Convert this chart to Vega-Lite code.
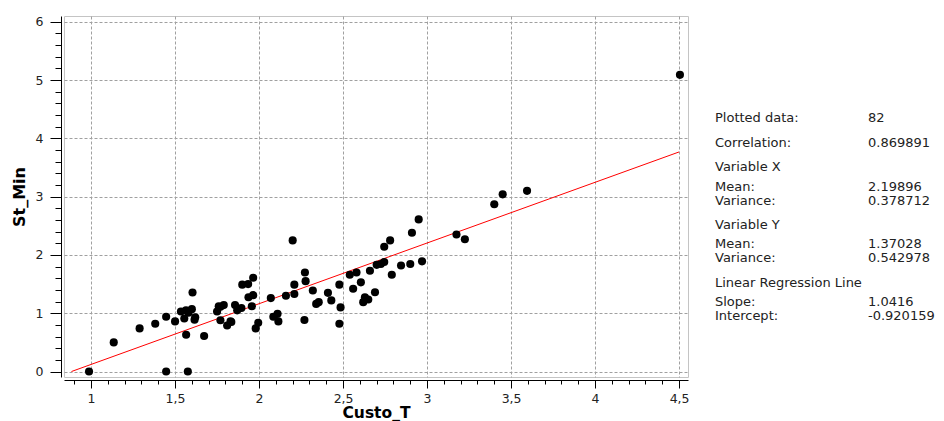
{
  "$schema": "https://vega.github.io/schema/vega-lite/v6.json",
  "background": "white",
  "padding": {"left": 10, "top": 15, "right": 0, "bottom": 0},
  "config": {"font": "DejaVu Sans", "view": {"stroke": null}},
  "spacing": 25,
  "datasets": {
    "points": [
      {"x": 0.988, "y": 0}, {"x": 1.135, "y": 0.5}, {"x": 1.289, "y": 0.74}, {"x": 1.382, "y": 0.82},
      {"x": 1.447, "y": 0.94}, {"x": 1.447, "y": 0}, {"x": 1.5, "y": 0.86}, {"x": 1.535, "y": 1.03},
      {"x": 1.555, "y": 0.91}, {"x": 1.565, "y": 1.05}, {"x": 1.566, "y": 0.63}, {"x": 1.576, "y": 0},
      {"x": 1.6, "y": 1.07}, {"x": 1.604, "y": 1.355}, {"x": 1.616, "y": 0.89}, {"x": 1.673, "y": 0.61},
      {"x": 1.58, "y": 1.01}, {"x": 1.62, "y": 0.93},
      {"x": 1.75, "y": 1.03}, {"x": 1.77, "y": 1.11}, {"x": 1.79, "y": 1.14}, {"x": 1.77, "y": 0.88},
      {"x": 1.76, "y": 1.12}, {"x": 1.83, "y": 0.86},
      {"x": 1.81, "y": 0.79}, {"x": 1.835, "y": 0.85}, {"x": 1.857, "y": 1.14}, {"x": 1.87, "y": 1.05},
      {"x": 1.895, "y": 1.09}, {"x": 1.9, "y": 1.49}, {"x": 1.935, "y": 1.5}, {"x": 1.965, "y": 1.61},
      {"x": 1.937, "y": 1.275}, {"x": 1.965, "y": 1.31}, {"x": 1.957, "y": 1.12}, {"x": 1.995, "y": 0.835},
      {"x": 1.98, "y": 0.74}, {"x": 2.07, "y": 1.26}, {"x": 2.085, "y": 0.94}, {"x": 2.11, "y": 0.99},
      {"x": 2.115, "y": 0.86}, {"x": 2.16, "y": 1.3}, {"x": 2.2, "y": 2.25}, {"x": 2.21, "y": 1.49},
      {"x": 2.21, "y": 1.33}, {"x": 2.273, "y": 1.7}, {"x": 2.277, "y": 1.55}, {"x": 2.27, "y": 0.885},
      {"x": 2.32, "y": 1.39}, {"x": 2.34, "y": 1.16}, {"x": 2.355, "y": 1.19}, {"x": 2.41, "y": 1.35},
      {"x": 2.43, "y": 1.22}, {"x": 2.485, "y": 1.1}, {"x": 2.478, "y": 1.49}, {"x": 2.478, "y": 0.82},
      {"x": 2.54, "y": 1.66}, {"x": 2.58, "y": 1.7}, {"x": 2.56, "y": 1.42}, {"x": 2.606, "y": 1.53},
      {"x": 2.62, "y": 1.19}, {"x": 2.63, "y": 1.275}, {"x": 2.65, "y": 1.235}, {"x": 2.66, "y": 1.73},
      {"x": 2.69, "y": 1.36}, {"x": 2.7, "y": 1.83}, {"x": 2.725, "y": 1.845}, {"x": 2.745, "y": 1.88},
      {"x": 2.745, "y": 2.14}, {"x": 2.78, "y": 2.25}, {"x": 2.79, "y": 1.66}, {"x": 2.845, "y": 1.82},
      {"x": 2.9, "y": 1.845}, {"x": 2.91, "y": 2.38}, {"x": 2.95, "y": 2.61}, {"x": 2.97, "y": 1.89},
      {"x": 3.175, "y": 2.35}, {"x": 3.225, "y": 2.27}, {"x": 3.4, "y": 2.87}, {"x": 3.45, "y": 3.04},
      {"x": 3.595, "y": 3.1}, {"x": 4.505, "y": 5.09}
    ],
    "fit": [{"x": 0.8834, "y": 0}, {"x": 4.5, "y": 3.7675}],
    "stats": [
      {"label": "Plotted data:", "value": "82", "line": 0},
      {"label": "Correlation:", "value": "0.869891", "line": 1.75},
      {"label": "Variable X", "value": "", "line": 3.43},
      {"label": "Mean:", "value": "2.19896", "line": 4.83},
      {"label": "Variance:", "value": "0.378712", "line": 5.8},
      {"label": "Variable Y", "value": "", "line": 7.48},
      {"label": "Mean:", "value": "1.37028", "line": 8.81},
      {"label": "Variance:", "value": "0.542978", "line": 9.79},
      {"label": "Linear Regression Line", "value": "", "line": 11.54},
      {"label": "Slope:", "value": "1.0416", "line": 12.87},
      {"label": "Intercept:", "value": "-0.920159", "line": 13.85}
    ]
  },
  "hconcat": [
    {
      "width": 624,
      "height": 361,
      "view": {"stroke": "#c4c4c4", "strokeWidth": 1},
      "encoding": {
        "x": {
          "field": "x", "type": "quantitative", "title": "Custo_T",
          "scale": {"domain": [0.839, 4.553], "nice": false, "zero": false},
          "axis": {
            "values": [0.9,1,1.1,1.2,1.3,1.4,1.5,1.6,1.7,1.8,1.9,2,2.1,2.2,2.3,2.4,2.5,2.6,2.7,2.8,2.9,3,3.1,3.2,3.3,3.4,3.5,3.6,3.7,3.8,3.9,4,4.1,4.2,4.3,4.4,4.5],
            "offset": 3,
            "domainColor": "#000", "tickColor": "#000", "domainWidth": 1, "tickWidth": 1,
            "tickSize": {"condition": {"test": "abs(datum.value*2 - round(datum.value*2)) < 0.001", "value": 8}, "value": 4},
            "grid": true, "gridColor": "#a0a0a0", "gridDash": [3, 2], "gridWidth": 1,
            "gridOpacity": {"condition": {"test": "abs(datum.value*2 - round(datum.value*2)) < 0.001", "value": 1}, "value": 0},
            "labelExpr": "abs(datum.value*2 - round(datum.value*2)) < 0.001 ? replace(toString(datum.value), '.', ',') : ''",
            "labelOverlap": false, "labelFlush": false, "labelBound": false,
            "labelFontSize": 12.5, "labelColor": "#222", "labelPadding": 4,
            "titleFontSize": 15.5, "titleFontWeight": "bold", "titleColor": "#000", "titlePadding": 1
          }
        },
        "y": {
          "field": "y", "type": "quantitative", "title": "St_Min",
          "scale": {"domain": [-0.094, 6.1], "nice": false, "zero": false},
          "axis": {
            "values": [0,0.2,0.4,0.6,0.8,1,1.2,1.4,1.6,1.8,2,2.2,2.4,2.6,2.8,3,3.2,3.4,3.6,3.8,4,4.2,4.4,4.6,4.8,5,5.2,5.4,5.6,5.8,6],
            "offset": 3,
            "domainColor": "#000", "tickColor": "#000", "domainWidth": 1, "tickWidth": 1,
            "tickSize": {"condition": {"test": "abs(datum.value - round(datum.value)) < 0.001", "value": 11}, "value": 6},
            "grid": true, "gridColor": "#a0a0a0", "gridDash": [3, 2], "gridWidth": 1,
            "gridOpacity": {"condition": {"test": "abs(datum.value - round(datum.value)) < 0.001", "value": 1}, "value": 0},
            "labelExpr": "abs(datum.value - round(datum.value)) < 0.001 ? toString(round(datum.value)) : ''",
            "labelOverlap": false, "labelFlush": false, "labelBound": false,
            "labelFontSize": 12.5, "labelColor": "#222", "labelPadding": 7,
            "titleFontSize": 16, "titleFontWeight": "bold", "titleColor": "#000", "titlePadding": 8
          }
        }
      },
      "layer": [
        {"data": {"name": "fit"}, "mark": {"type": "line", "color": "#ff0000", "strokeWidth": 1}},
        {"data": {"name": "points"}, "mark": {"type": "point", "filled": true, "color": "#000", "opacity": 1, "size": 66}}
      ]
    },
    {
      "width": 229,
      "height": 361,
      "view": {"stroke": null},
      "data": {"name": "stats"},
      "encoding": {
        "y": {"field": "line", "type": "quantitative", "scale": {"domain": [-7.13, 18.11], "reverse": true, "nice": false, "zero": false}, "axis": null}
      },
      "layer": [
        {
          "mark": {"type": "text", "align": "left", "baseline": "middle", "fontSize": 13, "color": "#222"},
          "encoding": {
            "x": {"datum": 0, "type": "quantitative", "scale": {"domain": [0, 1.497], "nice": false, "zero": false}, "axis": null},
            "text": {"field": "label"}
          }
        },
        {
          "mark": {"type": "text", "align": "left", "baseline": "middle", "fontSize": 13, "color": "#222"},
          "encoding": {
            "x": {"datum": 1, "type": "quantitative", "scale": {"domain": [0, 1.497], "nice": false, "zero": false}, "axis": null},
            "text": {"field": "value"}
          }
        }
      ]
    }
  ]
}
